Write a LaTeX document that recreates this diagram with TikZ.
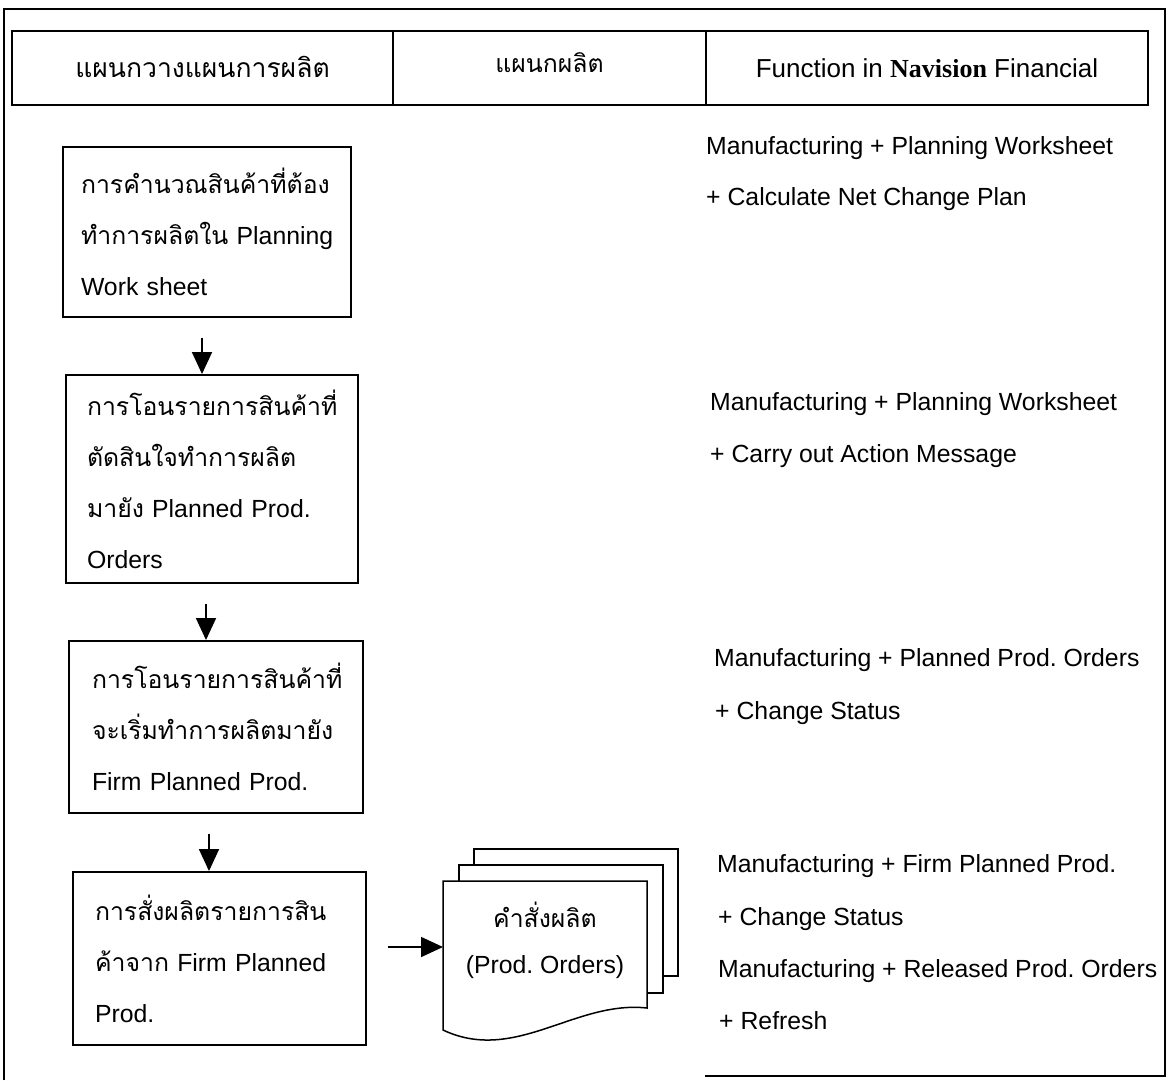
\documentclass[tikz,border=0pt]{standalone}
\usepackage{fontspec}
\setmainfont{Liberation Sans}
\newfontfamily\thaifont[Script=Thai]{Loma}
\newfontfamily\serifface{Liberation Serif}
\newcommand\thx[1]{{\thaifont #1}}
\usetikzlibrary{arrows.meta}
\frenchspacing

\begin{document}
\begin{tikzpicture}[x=1pt,y=-1pt,
  frame/.style={line width=1.9pt},
  hcell/.style={draw,line width=1.9pt,rectangle,minimum height=74pt,inner sep=0pt,
    text height=24pt,text depth=6pt,font=\fontsize{24.8}{30}\selectfont},
  stepbox/.style={draw,line width=1.9pt,rectangle,align=left,inner ysep=0pt,
    font=\fontsize{24.8}{51}\selectfont},
  label/.style={anchor=base west,inner sep=0pt,font=\fontsize{24.8}{30}\selectfont},
  arr/.style={line width=1.6pt,-{Triangle[width=20pt,length=22pt]}},
  page/.style={draw,fill=white,line width=1.5pt}
]
\useasboundingbox (0,0) rectangle (1170,1080);

% outer frame
\draw[frame] (4,1080) -- (4,9) -- (1165,9) -- (1165,1076) -- (705,1076);

% column headers
\node[hcell,minimum width=381pt] (h1) at (202.5,68)
  {\fontsize{26.5}{30}\selectfont\thx{แผนกวางแผนการผลิต}};
\node[hcell,minimum width=313pt] (h2) at (549.5,68) {\raisebox{5pt}{\thx{แผนกผลิต}}};
\node[hcell,minimum width=442pt] (h3) at (927,68)
  {\fontsize{26}{30}\selectfont Function in {\serifface\bfseries Navision} Financial};

% planning department steps
\node[stepbox,minimum width=288pt,minimum height=170pt,text width=252pt,inner xsep=18pt]
  (b1) at (207,232)
  {\thx{การคำนวณสินค้าที่ต้อง}\\\mbox{\thx{ทำการผลิตใน} Planning}\\Work sheet};
\node[stepbox,minimum width=292pt,minimum height=208pt,text width=250pt,inner xsep=21pt]
  (b2) at (212,479)
  {\thx{การโอนรายการสินค้าที่}\\\thx{ตัดสินใจทำการผลิต}\\\mbox{\thx{มายัง} Planned Prod.}\\Orders};
\node[stepbox,minimum width=294pt,minimum height=172pt,text width=248pt,inner xsep=23pt]
  (b3) at (216,727)
  {\thx{การโอนรายการสินค้าที่}\\\thx{จะเริ่มทำการผลิตมายัง}\\\mbox{Firm Planned Prod.}};
\node[stepbox,minimum width=293pt,minimum height=173pt,text width=249pt,inner xsep=22pt]
  (b4) at (219.5,958.5)
  {\thx{การสั่งผลิตรายการสิน}\\\mbox{\thx{ค้าจาก} Firm Planned}\\Prod.};

\draw[arr] ([shift={(-5,20)}]b1.south) -- ([xshift=-5pt]b1.south |- b2.north);
\draw[arr] ([shift={(-6,20)}]b2.south) -- ([xshift=-6pt]b2.south |- b3.north);
\draw[arr] ([shift={(-7,20)}]b3.south) -- ([xshift=-7pt]b3.south |- b4.north);

% production orders: stacked documents
\draw[page] (474,849) rectangle (678,976);
\draw[page] (459,865) rectangle (663,993);
\draw[page] (443,881) -- (647,881) -- (647,1008)
  .. controls (575,1000) and (515,1064) .. (443,1030) -- cycle;
\node[align=center,inner sep=0pt,font=\fontsize{24.8}{46}\selectfont] (doc) at (545,940)
  {\thx{คำสั่งผลิต}\\(Prod. Orders)};
\coordinate (docin) at (443,947);
\draw[arr] ([xshift=21pt]b4.east |- docin) -- (docin);

% Navision functions
\node[label] (r1a) at (706,154) {Manufacturing + Planning Worksheet};
\node[label] (r1b) at (706,205) {+ Calculate Net Change Plan};
\node[label] (r2a) at (710,410) {Manufacturing + Planning Worksheet};
\node[label] (r2b) at (710,462) {+ Carry out Action Message};
\node[label] (r3a) at (714,666) {Manufacturing + Planned Prod. Orders};
\node[label] (r3b) at (715,719) {+ Change Status};
\node[label] (r4a) at (717,872) {Manufacturing + Firm Planned Prod.};
\node[label] (r4b) at (718,925) {+ Change Status};
\node[label] (r4c) at (718,977) {Manufacturing + Released Prod. Orders};
\node[label] (r4d) at (719,1029) {+ Refresh};
\end{tikzpicture}
\end{document}
